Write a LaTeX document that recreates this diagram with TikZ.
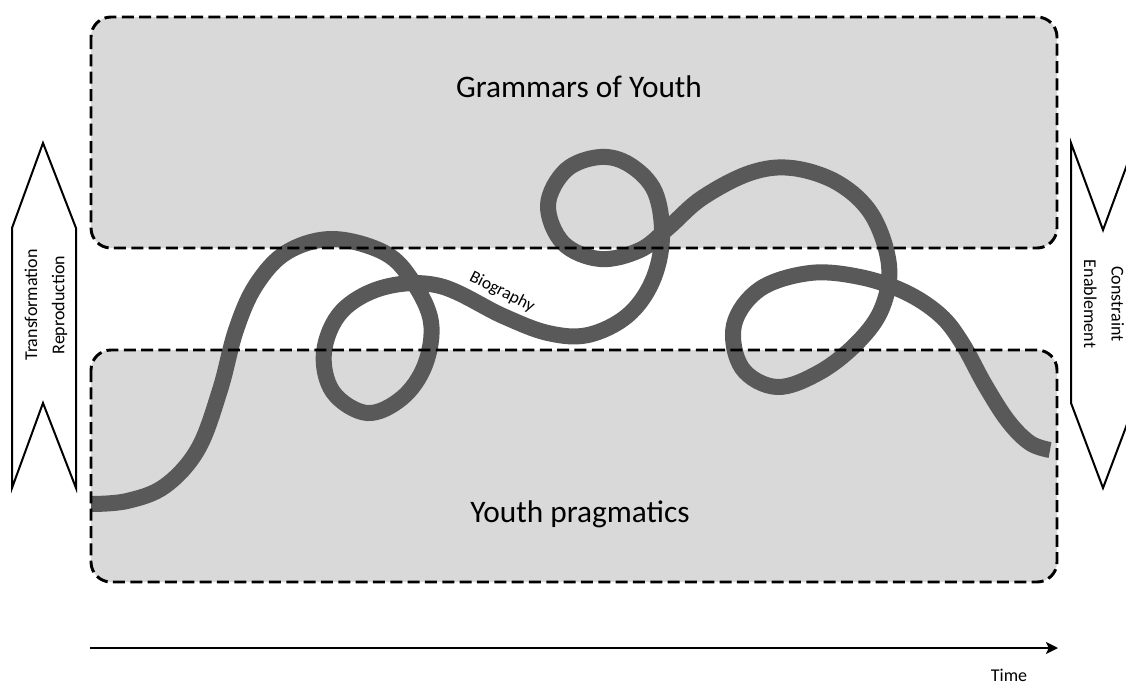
\documentclass[tikz,border=0pt]{standalone}
\usepackage{fontspec}
\setmainfont{Carlito}
\usetikzlibrary{arrows.meta}
\definecolor{zonegray}{HTML}{D9D9D9}
\definecolor{biogray}{HTML}{595959}
\begin{document}
\begin{tikzpicture}[x=0.75pt,y=-0.75pt,
  zonefill/.style={fill=zonegray, rounded corners=15pt},
  zoneline/.style={draw=black, line width=2.2pt, dash pattern=on 9pt off 4pt, rounded corners=15pt},
  bio/.style={draw=biogray, line width=12pt, line cap=butt, line join=round},
  sidearrow/.style={draw=black, fill=white, line width=1.5pt, line join=miter},
  bigtext/.style={font=\fontsize{23.5}{28}\selectfont, inner sep=0pt},
  sidetext/.style={font=\fontsize{13.5}{20.5}\selectfont, align=center, inner sep=0pt},
  timeline/.style={draw=black, line width=1.5pt, -{Stealth[length=9pt,width=9pt,inset=2pt]}}
]
\useasboundingbox (0,0) rectangle (1126,686);
% zones
\path[zonefill] (91,17) rectangle (1057,248);
\path[zonefill] (91,350) rectangle (1057,582);
% side arrows
\path[sidearrow] (12,228) -- (43,143) -- (76,228) -- (76,488) -- (43,403) -- (12,488) -- cycle;
\path[sidearrow] (1071,143) -- (1103,230) -- (1135,143) -- (1135,403) -- (1103,488) -- (1071,403) -- cycle;
% biography curve
\draw[bio] plot[smooth, tension=0.6] coordinates {
 (91,504) (127,501) (165,486) (198,449) (220,390) (236,330) (256,285) (287,252) (333,239)
 (385,253) (413,282) (431,322) (425,365) (402,398) (367,413) (333,392) (324,352)
 (342,311) (385,287) (440,286) (503,316) (548,333) (588,335) (627,316)
 (652,282) (662,238) (655,192) (630,165) (600,157) (566,170) (548,205) (563,243)
 (600,259) (640,250) (668,228) (702,198) (750,173) (792,168) (838,183) (872,215)
 (889,265) (882,308) (858,342) (820,372) (777,387) (742,368) (734,325) (760,289)
 (810,273) (860,277) (905,292) (940,315) (962,343) (985,385) (1008,421) (1030,443) (1050,450)};
% zone borders
\path[zoneline] (91,17) rectangle (1057,248);
\path[zoneline] (91,350) rectangle (1057,582);
% texts
\node[bigtext, anchor=base] (grammars) at (579,97) {Grammars of Youth};
\node[bigtext, anchor=base] (pragmatics) at (580,522) {Youth pragmatics};
\node[sidetext, rotate=90] (leftlabel) at (46,305) {Transformation\\Reproduction};
\node[sidetext, rotate=-90] (rightlabel) at (1104,304) {Constraint\\Enablement};
\node[font=\fontsize{13}{15}\selectfont, rotate=-27, inner sep=0pt] (biolabel) at (502,292) {Biography};
% time axis
\coordinate (tstart) at (90,648);
\coordinate (tend) at (1058,648);
\draw[timeline] (tstart) -- (tend);
\node[font=\fontsize{13.5}{16}\selectfont, anchor=base, inner sep=0pt] (time) at (1009,681) {Time};
\end{tikzpicture}
\end{document}
